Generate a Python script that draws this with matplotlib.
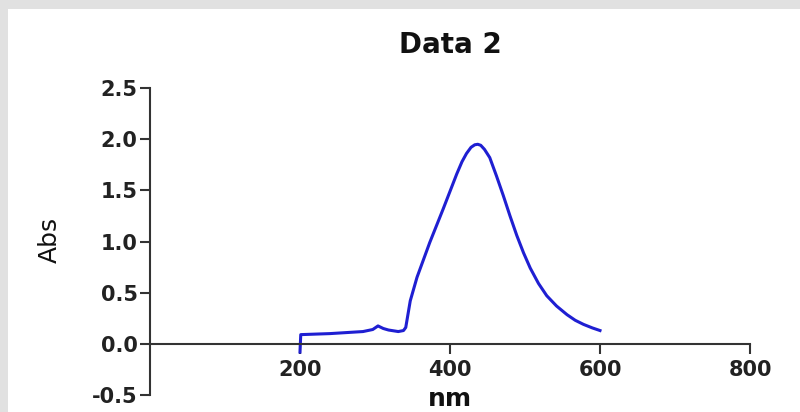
import numpy as np
import matplotlib.pyplot as plt
from matplotlib.patches import Rectangle

plt.rcParams['font.family'] = ['DejaVu Sans']

# 读图得到的数据
wavelength = [200, 201, 240, 284, 297, 304, 311, 318, 331, 338, 341, 347, 356, 373,
              391, 409, 416, 422, 428, 433, 437, 441, 446, 453, 462, 471, 480, 489,
              498, 507, 518, 529, 542, 556, 567, 578, 590, 600]
absorb = [-0.08, 0.09, 0.10, 0.12, 0.14, 0.175, 0.15, 0.135, 0.12, 0.13, 0.16, 0.42, 0.65, 0.99,
          1.32, 1.66, 1.78, 1.86, 1.92, 1.945, 1.95, 1.94, 1.90, 1.82, 1.64, 1.45, 1.25, 1.06,
          0.89, 0.74, 0.59, 0.47, 0.37, 0.285, 0.23, 0.19, 0.155, 0.13]
xticks = [200, 400, 600, 800]
yticks = [-0.5, 0.0, 0.5, 1.0, 1.5, 2.0, 2.5]

fig = plt.figure(figsize=(8, 4.12), dpi=100)
fig.patch.set_facecolor('#e1e1e1')
# 白色底板
fig.patches.append(Rectangle((8 / 800, 0), 1, 1 - 9 / 412, transform=fig.transFigure,
                             facecolor='white', edgecolor='none', zorder=-10))

ax = fig.add_axes([150 / 800, 17 / 412, 600 / 800, 307 / 412])
ax.set_facecolor('none')
ax.set_zorder(5)
ax.plot(wavelength, absorb, color='#1f1fd2', lw=2.2, solid_joinstyle='round')

ax.set_xlim(0, 800)
ax.set_ylim(-0.5, 2.5)
ax.set_xticks(xticks)
ax.set_yticks(yticks)
ax.set_yticklabels([f'{v:.1f}' for v in yticks])

for s in ['top', 'right']:
    ax.spines[s].set_visible(False)
ax.spines['bottom'].set_position(('data', 0))
for s in ['left', 'bottom']:
    ax.spines[s].set_linewidth(1.5)
    ax.spines[s].set_color('#333333')

ax.tick_params(axis='both', direction='out', length=7, width=1.5, color='#333333',
               labelsize=15, labelcolor='#222222')
ax.tick_params(axis='x', pad=5)
ax.tick_params(axis='y', pad=2)
for lab in ax.get_xticklabels() + ax.get_yticklabels():
    lab.set_fontweight('bold')

fig.text(450 / 800, 1 - 45 / 412, 'Data 2', ha='center', va='center',
         fontsize=20, fontweight='bold', color='#111111')
fig.text(50 / 800, 1 - 240 / 412, 'Abs', ha='center', va='center', rotation=90,
         fontsize=18, color='#111111')
fig.text(450 / 800, 1 - 399 / 412, 'nm', ha='center', va='center',
         fontsize=18, fontweight='bold', color='#111111')

plt.savefig('out.png', dpi=100, facecolor=fig.get_facecolor())
